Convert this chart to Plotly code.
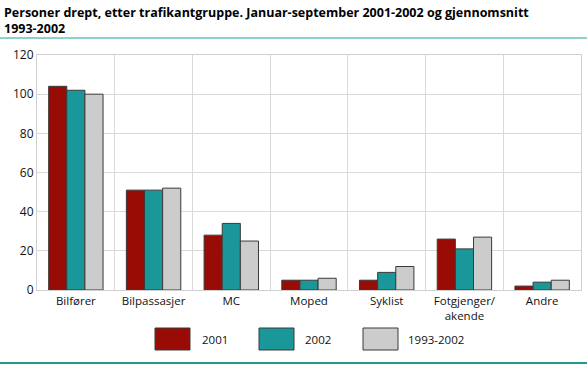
import plotly.graph_objects as go

categories = ["Bilfører", "Bilpassasjer", "MC", "Moped", "Syklist", "Fotgjenger/<br>akende", "Andre"]
series_names = ["2001", "2002", "1993-2002"]
v2001 = [104, 51, 28, 5, 5, 26, 2]
v2002 = [102, 51, 34, 5, 9, 21, 4]
vavg = [100, 52, 25, 6, 12, 27, 5]
y_ticks = [0, 20, 40, 60, 80, 100, 120]

colors = ["#990c06", "#1a9899", "#cccccc"]
values = [v2001, v2002, vavg]

W, H = 587, 365
L, R, T, B = 37, 6, 55, 75
PW = W - L - R
PH = H - T - B

def px(x):
    return (x - L) / PW

def py(y):
    return (H - B - y) / PH

fig = go.Figure()
for name, vals, col in zip(series_names, values, colors):
    fig.add_trace(go.Bar(
        x=categories, y=vals, name=name,
        marker=dict(color=col, line=dict(color="#3a3a3a", width=1)),
        showlegend=False,
    ))

font_family = "Open Sans, Noto Sans, sans-serif"

shapes = []
annotations = []
# title
annotations.append(dict(xref="paper", yref="paper", x=px(2), y=py(2), xanchor="left", yanchor="top",
                        align="left", showarrow=False,
                        text="<b>Personer drept, etter trafikantgruppe. Januar-september 2001-2002 og gjennomsnitt<br>1993-2002</b>",
                        font=dict(size=12.5, color="#000000", family=font_family)))
# title rules
shapes.append(dict(type="line", xref="paper", yref="paper", x0=px(0), x1=px(W), y0=py(38), y1=py(38),
                   line=dict(color="#8fd0c9", width=2)))
shapes.append(dict(type="line", xref="paper", yref="paper", x0=px(0), x1=px(W), y0=py(363), y1=py(363),
                   line=dict(color="#1f9a8c", width=2)))
# custom legend
box_x = [155, 259, 363]
text_x = [200, 303, 406]
for bx, tx, col, name in zip(box_x, text_x, colors, series_names):
    shapes.append(dict(type="rect", xref="paper", yref="paper", x0=px(bx), x1=px(bx + 35),
                       y0=py(350), y1=py(328), fillcolor=col, line=dict(color="#3a3a3a", width=1)))
    annotations.append(dict(xref="paper", yref="paper", x=px(tx), y=py(339), text=name, showarrow=False,
                            xanchor="left", yanchor="middle", font=dict(size=11.5, color="#111111", family=font_family)))

fig.update_layout(
    width=W, height=H,
    margin=dict(l=L, r=R, t=T, b=B),
    paper_bgcolor="white", plot_bgcolor="white",
    barmode="group", bargap=0.3, bargroupgap=0,
    font=dict(family=font_family, size=11.5, color="#111111"),
    shapes=shapes, annotations=annotations,
    xaxis=dict(type="category", tickson="boundaries", showgrid=True, gridcolor="#d9d9d9", gridwidth=1,
               showline=True, linecolor="#cfcfcf", mirror=True, ticks="", tickfont=dict(size=11.5)),
    yaxis=dict(range=[0, 120], tickvals=y_ticks, showgrid=True, gridcolor="#d9d9d9", gridwidth=1,
               showline=True, linecolor="#cfcfcf", mirror=True, ticks="", zeroline=False,
               tickfont=dict(size=12)),
)

fig.write_html("out.html", config={"displayModeBar": False},
               post_script="document.body.style.margin='0';document.body.style.overflow='hidden';")
